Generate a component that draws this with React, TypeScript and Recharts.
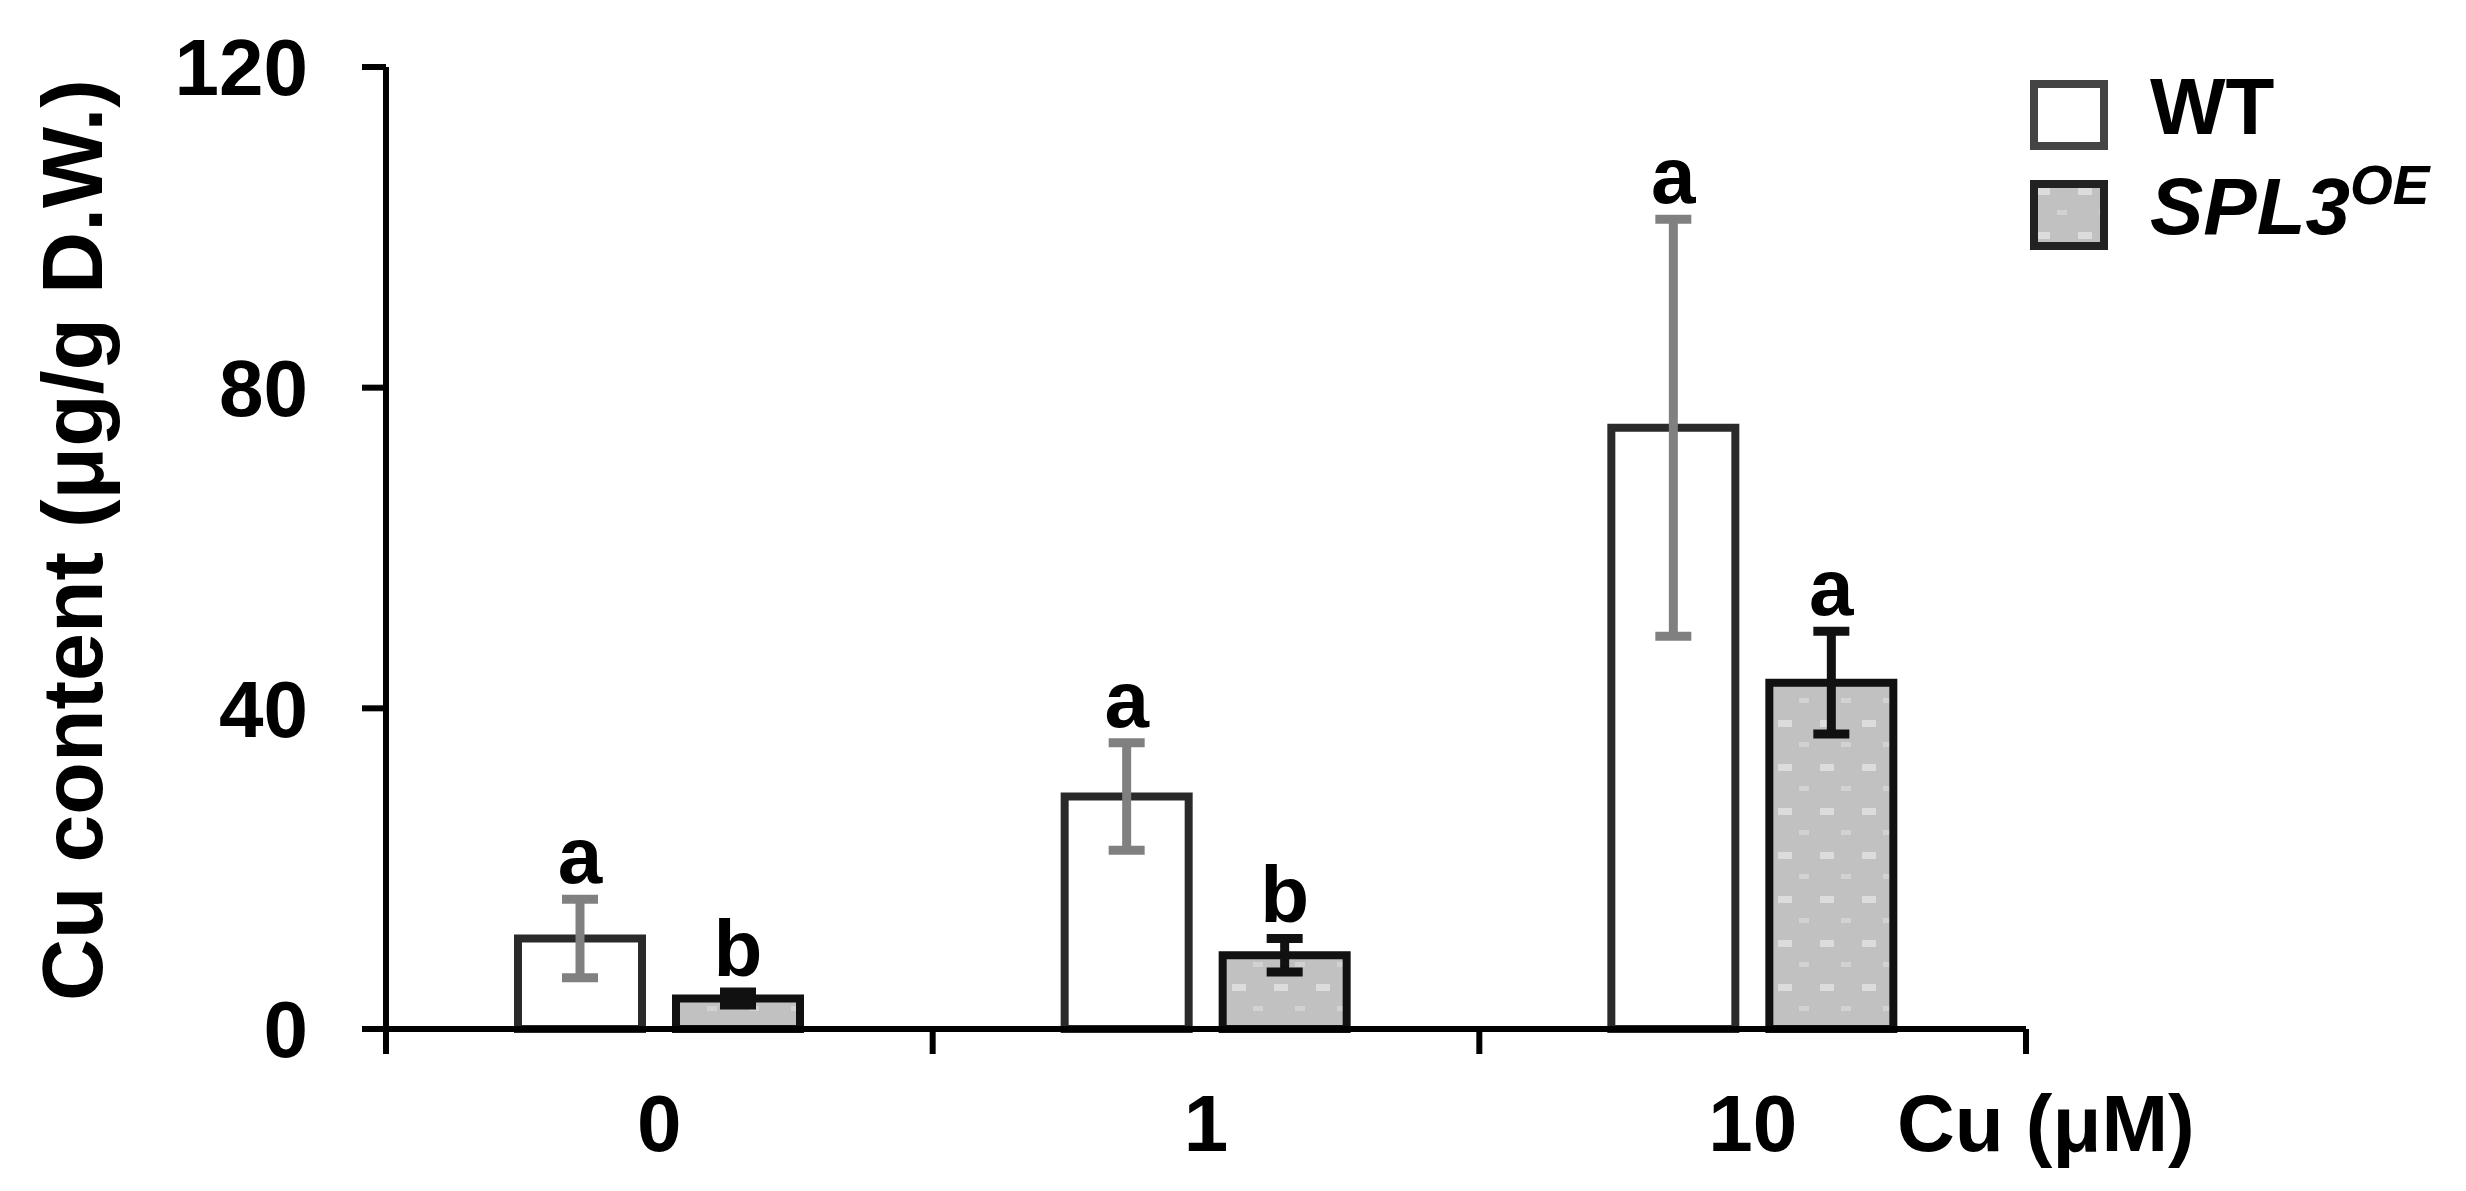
import React from 'react'
import { ComposedChart, Bar, XAxis, YAxis, ErrorBar, Legend, LabelList } from 'recharts'

// Cu content of WT and SPL3 overexpression lines under 0 / 1 / 10 uM Cu
const categories = ['0', '1', '10']
const wtMeans = [11.3, 29, 75]
const wtErrors = [4.9, 6.7, 26]
const splMeans = [3.8, 9.2, 43.2]
const splErrors = [0.8, 2.1, 6.4]
const wtLetters = ['a', 'a', 'a']
const splLetters = ['b', 'b', 'a']
const yTicks = [0, 40, 80, 120]
const legendOrder = ['wt', 'spl']

const FONT = '"Liberation Sans", Arial, sans-serif'
const X_TICK_GAP = 65
const X_TICK_LEN = 25

const data = categories.map((cu, i) => ({
  cu,
  wt: wtMeans[i],
  wtErr: wtErrors[i],
  wtTag: `${wtLetters[i]}|${wtErrors[i]}|${wtMeans[i]}`,
  spl: splMeans[i],
  splErr: splErrors[i],
  splTag: `${splLetters[i]}|${splErrors[i]}|${splMeans[i]}`,
}))

const tickStyle = { fill: '#000', fontSize: 80, fontWeight: 'bold', fontFamily: FONT }

// category label plus Excel-style tick marks between categories
const CategoryTick = (props: any) => {
  const { x, y, payload, index } = props
  const half = payload?.offset || 273
  const axisY = y - X_TICK_GAP
  return (
    <g>
      <text x={x} y={y} dy="0.71em" textAnchor="middle" {...tickStyle}>
        {payload.value}
      </text>
      {index === 0 && (
        <line x1={x - half} x2={x - half} y1={axisY} y2={axisY + X_TICK_LEN} stroke="#000" strokeWidth={6} />
      )}
      <line x1={x + half} x2={x + half} y1={axisY} y2={axisY + X_TICK_LEN} stroke="#000" strokeWidth={6} />
    </g>
  )
}

// letter placed just above the error bar cap
const LetterLabel = (props: any) => {
  const box = props.viewBox ?? props
  const { x, y, width, height } = box
  const [letter, err, mean] = String(props.value).split('|')
  const pxPerUnit = Math.abs(height) / Number(mean)
  const capY = y - Number(err) * pxPerUnit
  return (
    <text
      x={x + width / 2}
      y={capY - 16}
      textAnchor="middle"
      fill="#000"
      fontSize={80}
      fontWeight="bold"
      fontFamily={FONT}
    >
      {letter}
    </text>
  )
}

const YTitle = (props: any) => {
  const vb = props.viewBox
  const cy = vb.y + vb.height / 2 - 8
  return (
    <text
      x={64}
      y={cy}
      transform={`rotate(-90, 64, ${cy})`}
      textAnchor="middle"
      dominantBaseline="central"
      fill="#000"
      fontSize={86}
      fontWeight="bold"
      fontFamily={FONT}
    >
      Cu content (μg/g D.W.)
    </text>
  )
}

const XTitle = (props: any) => {
  const vb = props.viewBox
  return (
    <text
      x={vb.x + vb.width - 129}
      y={vb.y + 122}
      fill="#000"
      fontSize={80}
      fontWeight="bold"
      fontFamily={FONT}
    >
      Cu (μM)
    </text>
  )
}

const renderLegend = (props: any) => {
  const items = [...(props.payload ?? [])].sort(
    (a: any, b: any) => legendOrder.indexOf(a.dataKey) - legendOrder.indexOf(b.dataKey)
  )
  return (
    <div style={{ fontFamily: FONT, fontWeight: 'bold', fontSize: 80, color: '#000' }}>
      {items.map((item: any) => {
        const isSpl = item.dataKey === 'spl'
        return (
          <div
            key={item.dataKey}
            style={{ display: 'flex', alignItems: 'center', height: 100, whiteSpace: 'nowrap' }}
          >
            <svg width={78} height={70} style={{ flex: 'none' }}>
              <rect
                x={4}
                y={4}
                width={70}
                height={62}
                fill={isSpl ? 'url(#splDots)' : '#fff'}
                stroke={isSpl ? '#222' : '#444'}
                strokeWidth={8}
              />
            </svg>
            <span style={{ marginLeft: 42, position: 'relative', top: -8, lineHeight: 1 }}>
              {isSpl ? (
                <i>
                  SPL3
                  <sup style={{ fontSize: 55, verticalAlign: 'baseline', position: 'relative', top: -30 }}>
                    OE
                  </sup>
                </i>
              ) : (
                'WT'
              )}
            </span>
          </div>
        )
      })}
    </div>
  )
}

export default function App() {
  return (
    <div style={{ width: 2450, height: 1175 }}>
      <ComposedChart
        width={2450}
        height={1175}
        data={data}
        barGap={34}
        margin={{ top: 59, right: 432, bottom: 153, left: 278 }}
      >
        <defs>
          <pattern id="splDots" width="42" height="44" patternUnits="userSpaceOnUse">
            <rect width="42" height="44" fill="#c1c1c1" />
            <rect x="6" y="8" width="14" height="7" fill="#dcdcdc" />
            <rect x="27" y="30" width="10" height="5" fill="#d2d2d2" />
          </pattern>
        </defs>
        <XAxis
          xAxisId="cat"
          dataKey="cu"
          height={1}
          tick={<CategoryTick />}
          tickLine={false}
          tickSize={0}
          tickMargin={X_TICK_GAP}
          axisLine={{ stroke: '#000', strokeWidth: 6 }}
          label={{ content: XTitle }}
        />
        <YAxis
          domain={[0, 120]}
          ticks={yTicks}
          width={100}
          tick={tickStyle}
          tickSize={24}
          tickMargin={54}
          tickLine={{ stroke: '#000', strokeWidth: 6 }}
          axisLine={{ stroke: '#000', strokeWidth: 6 }}
          label={{ content: YTitle }}
        />
        <Legend
          layout="vertical"
          align="center"
          verticalAlign="middle"
          wrapperStyle={{ top: 57, left: 2022, width: 430 }}
          content={renderLegend}
        />
        <Bar
          xAxisId="cat"
          dataKey="wt"
          name="WT"
          fill="#fff"
          stroke="#2a2a2a"
          strokeWidth={8}
          barSize={124}
          isAnimationActive={false}
        >
          <ErrorBar dataKey="wtErr" direction="y" width={18} stroke="#808080" strokeWidth={9} />
          <LabelList dataKey="wtTag" content={LetterLabel} />
        </Bar>
        <Bar
          xAxisId="cat"
          dataKey="spl"
          name="SPL3OE"
          fill="url(#splDots)"
          stroke="#111"
          strokeWidth={8}
          barSize={124}
          isAnimationActive={false}
        >
          <ErrorBar dataKey="splErr" direction="y" width={18} stroke="#111" strokeWidth={9} />
          <LabelList dataKey="splTag" content={LetterLabel} />
        </Bar>
      </ComposedChart>
    </div>
  )
}
